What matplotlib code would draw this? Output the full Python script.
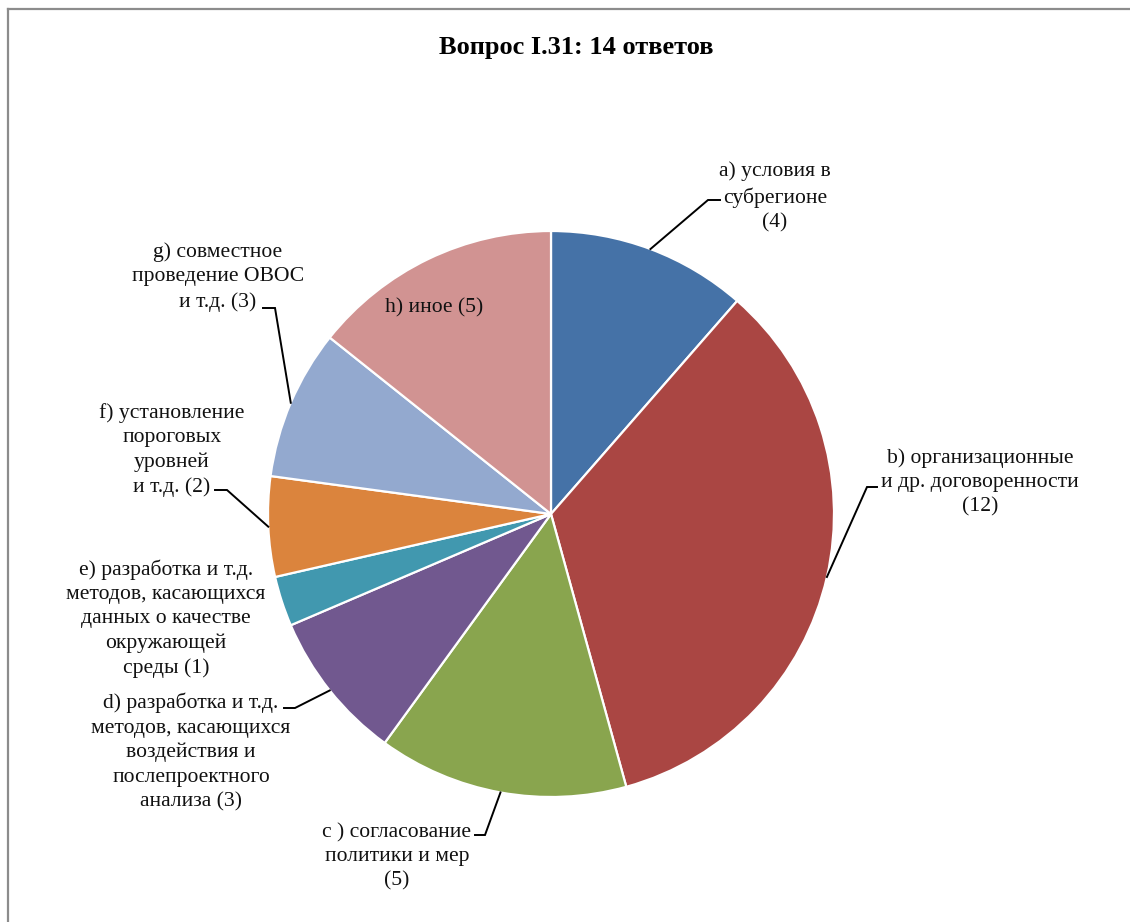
import numpy as np
import matplotlib
matplotlib.use("Agg")
import matplotlib.pyplot as plt
from matplotlib.lines import Line2D

plt.rcParams['font.family'] = ['Liberation Serif', 'DejaVu Serif']

# answers per option
labels = ["a) условия в\nсубрегионе\n(4)",
          "b) организационные\nи др. договоренности\n(12)",
          "c ) согласование\nполитики и мер\n(5)",
          "d) разработка и т.д.\nметодов, касающихся\nвоздействия и\nпослепроектного\nанализа (3)",
          "e) разработка и т.д.\nметодов, касающихся\nданных о качестве\nокружающей\nсреды (1)",
          "f) установление\nпороговых\nуровней\nи т.д. (2)",
          "g) совместное\nпроведение ОВОС\nи т.д. (3)",
          "h) иное (5)"]
counts = [4, 12, 5, 3, 1, 2, 3, 5]
colors = ["#4572A7", "#AA4643", "#89A54E", "#71588F",
          "#4198AF", "#DB843D", "#93A9CF", "#D19392"]
title = "Вопрос I.31: 14 ответов"

W, H = 1130, 922
fig = plt.figure(figsize=(W / 100, H / 100), dpi=100)
ax = fig.add_axes([0, 0, 1, 1])

cx, cy, r = 551, H - 514, 283
wedges, _ = ax.pie(counts, startangle=90, counterclock=False, colors=colors,
                   center=(cx, cy), radius=r,
                   wedgeprops=dict(edgecolor="white", linewidth=1.6))
ax.set_xlim(0, W)
ax.set_ylim(0, H)
ax.set_aspect("equal")
ax.axis("off")

# label text position (px from top-left) and leader elbow / end points
label_pos = [(775, 197), (980, 482), (397, 857), (191, 752),
             (166, 619), (172, 450), (218, 277), (434, 308)]
leaders = [((708, 200), (720, 200)),
           ((867, 487), (877, 487)),
           ((485, 835), (475, 835)),
           ((295, 708), (284, 708)),
           None,
           ((227, 490), (215, 490)),
           ((275, 308), (263, 308)),
           None]

for w, lab, (lx, ly), ld in zip(wedges, labels, label_pos, leaders):
    ax.text(lx, H - ly, lab, ha="center", va="center", fontsize=15.6,
            linespacing=1.37, color="#111111")
    if ld is not None:
        mid = np.deg2rad((w.theta1 + w.theta2) / 2)
        px, py = cx + r * np.cos(mid), cy + r * np.sin(mid)
        (ex, ey), (tx, ty) = ld
        ax.plot([px, ex, tx], [py, H - ey, H - ty], color="black", lw=1.4,
                solid_joinstyle="miter")

ax.text(576, H - 48, title, ha="center", va="center", fontsize=19,
        fontweight="bold")

# chart area border (top and left edges)
fig.add_artist(Line2D([8 / W, 1], [1 - 9 / H, 1 - 9 / H], color="#8c8c8c", lw=1.6,
                      transform=fig.transFigure))
fig.add_artist(Line2D([8 / W, 8 / W], [0, 1 - 9 / H], color="#8c8c8c", lw=1.6,
                      transform=fig.transFigure))

fig.savefig("out.png", dpi=100)
